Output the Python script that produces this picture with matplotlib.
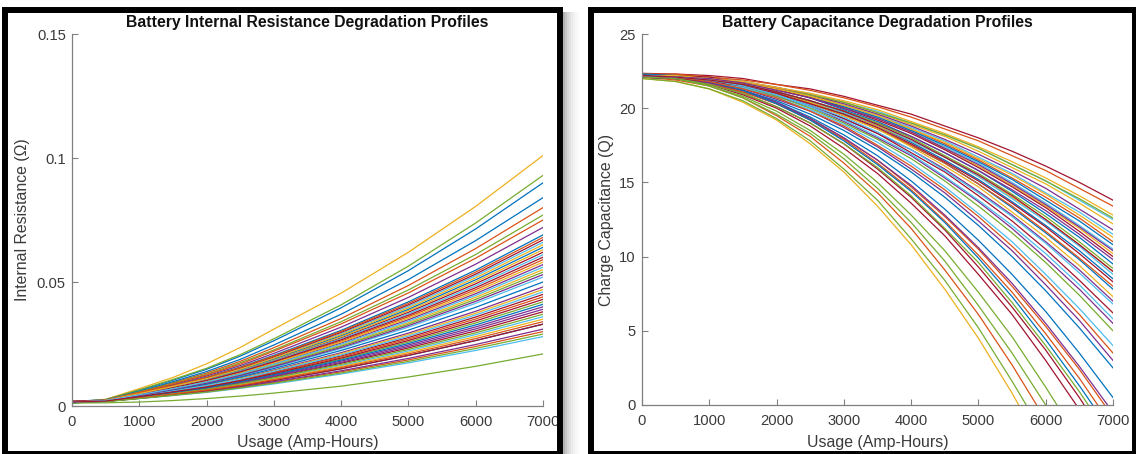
import matplotlib
matplotlib.use("Agg")
import matplotlib.pyplot as plt
from matplotlib.patches import Rectangle

# ---------------- data ----------------
usage_r = [0, 500, 1000, 1500, 2000, 2500, 3000, 4000, 5000, 6000, 7000]

# Internal resistance (milli-ohm) of each battery profile at each usage point
r_0 = [1.8, 1.5, 1.5, 1.3, 1.6, 1.9, 1.4,
       1.7, 1.5, 1.2, 1.8, 1.2, 1.6, 1.4,
       1.5, 1.9, 1.3, 1.6, 1.5, 1.7, 1.4,
       1.5, 1.8, 1.4, 1.6, 1.3, 1.7, 1.5,
       1.6, 1.4, 1.8, 1.5, 1.3, 1.6, 1.9,
       1.4, 1.7, 1.5, 1.6, 1.2, 1.5, 1.8,
       1.3, 1.6, 1.5, 1.7, 1.4, 1.5, 1.6]
r_500 = [2.6, 2.4, 2.7, 2.3, 2.6, 2.3, 2.2,
         2.5, 2.2, 2.1, 2.1, 1.3, 1.8, 2.0,
         2.3, 1.8, 2.2, 2.0, 2.4, 2.1, 2.0,
         1.9, 2.4, 2.1, 2.2, 2.0, 1.9, 2.3,
         2.3, 2.0, 1.9, 1.9, 2.1, 2.2, 1.9,
         2.1, 2.3, 2.2, 2.0, 1.9, 2.0, 2.2,
         2.0, 1.9, 2.3, 2.1, 1.8, 2.2, 2.0]
r_1000 = [6.4, 5.8, 7.0, 5.4, 6.5, 5.0, 4.8,
          6.0, 4.7, 4.4, 4.1, 1.6, 3.0, 3.9,
          5.2, 3.1, 4.9, 3.6, 5.7, 4.3, 3.5,
          3.2, 5.5, 4.0, 4.6, 3.7, 3.4, 5.1,
          4.9, 3.8, 3.3, 3.1, 4.4, 4.8, 3.2,
          4.2, 5.2, 4.6, 3.6, 3.5, 3.9, 4.7,
          3.7, 3.3, 5.0, 4.3, 3.0, 4.5, 3.8]
r_1500 = [10.4, 9.4, 11.5, 8.6, 10.7, 8.0, 7.6,
          9.8, 7.3, 6.9, 6.2, 2.2, 4.2, 5.9,
          8.3, 4.4, 7.7, 5.4, 9.1, 6.6, 5.2,
          4.7, 8.9, 6.1, 7.1, 5.6, 5.0, 8.1,
          7.8, 5.8, 4.9, 4.5, 6.8, 7.5, 4.7,
          6.4, 8.2, 7.2, 5.3, 5.1, 6.0, 7.4,
          5.5, 4.8, 7.9, 6.7, 4.3, 7.0, 5.7]
r_2000 = [14.8, 13.3, 17.0, 12.1, 15.2, 11.2, 10.6,
          13.9, 10.1, 9.5, 8.5, 3.0, 5.5, 8.0,
          11.6, 5.8, 10.7, 7.3, 12.8, 9.1, 7.0,
          6.2, 12.5, 8.3, 9.8, 7.6, 6.7, 11.3,
          10.9, 7.9, 6.5, 5.9, 9.4, 10.4, 6.2,
          8.8, 11.5, 10.0, 7.1, 6.8, 8.2, 10.3,
          7.4, 6.4, 11.0, 9.2, 5.6, 9.7, 7.7]
r_2500 = [20.1, 18.0, 23.6, 16.3, 20.7, 15.0, 14.2,
          18.8, 13.6, 12.7, 11.3, 4.0, 7.1, 10.6,
          15.7, 7.5, 14.4, 9.6, 17.4, 12.1, 9.2,
          8.1, 16.9, 11.1, 13.2, 10.0, 8.7, 15.3,
          14.6, 10.4, 8.5, 7.7, 12.5, 14.0, 8.1,
          11.7, 15.5, 13.4, 9.4, 9.0, 10.8, 13.8,
          9.8, 8.3, 14.8, 12.3, 7.3, 12.9, 10.2]
r_3000 = [26.3, 23.5, 31.0, 21.2, 27.1, 19.6, 18.4,
          24.6, 17.6, 16.5, 14.5, 5.2, 8.9, 13.7,
          20.4, 9.5, 18.7, 12.3, 22.6, 15.6, 11.7,
          10.3, 22.1, 14.2, 17.0, 12.8, 11.2, 19.8,
          19.0, 13.4, 10.9, 9.8, 16.2, 18.2, 10.3,
          15.1, 20.1, 17.3, 12.0, 11.4, 14.0, 17.9,
          12.6, 10.6, 19.3, 15.9, 9.2, 16.8, 13.1]
r_4000 = [39.6, 35.3, 45.5, 31.8, 40.8, 29.2, 27.5,
          37.0, 26.2, 24.5, 21.5, 8.0, 12.9, 20.2,
          30.5, 13.8, 27.9, 18.1, 34.0, 23.2, 17.2,
          15.0, 33.1, 21.1, 25.4, 18.9, 16.3, 29.7,
          28.4, 19.8, 15.9, 14.2, 24.1, 27.1, 15.0,
          22.4, 30.1, 25.8, 17.6, 16.8, 20.6, 26.7,
          18.5, 15.5, 28.8, 23.6, 13.3, 24.9, 19.3]
r_5000 = [54.6, 48.6, 62.0, 43.8, 56.4, 40.2, 37.8,
          51.0, 36.0, 33.6, 29.4, 11.7, 17.4, 27.6,
          42.0, 18.6, 38.4, 24.6, 46.8, 31.8, 23.4,
          20.4, 45.6, 28.8, 34.8, 25.8, 22.2, 40.8,
          39.0, 27.0, 21.6, 19.2, 33.0, 37.2, 20.4,
          30.6, 41.4, 35.4, 24.0, 22.8, 28.2, 36.6,
          25.2, 21.0, 39.6, 32.4, 18.0, 34.2, 26.4]
r_6000 = [71.4, 63.5, 80.5, 57.2, 73.8, 52.5, 49.3,
          66.7, 46.9, 43.8, 38.2, 16.0, 22.4, 35.9,
          54.8, 24.0, 50.1, 31.9, 61.1, 41.4, 30.3,
          26.4, 59.6, 37.4, 45.3, 33.5, 28.8, 53.2,
          50.9, 35.1, 28.0, 24.8, 43.0, 48.5, 26.4,
          39.8, 54.0, 46.1, 31.1, 29.5, 36.7, 47.7,
          32.7, 27.2, 51.7, 42.2, 23.2, 44.6, 34.3]
r_7000 = [90, 80, 101, 72, 93, 66, 62,
          84, 59, 55, 48, 21, 28, 45,
          69, 30, 63, 40, 77, 52, 38,
          33, 75, 47, 57, 42, 36, 67,
          64, 44, 35, 31, 54, 61, 33,
          50, 68, 58, 39, 37, 46, 60,
          41, 34, 65, 53, 29, 56, 43]

usage_q = [0, 500, 1000, 1500, 2000, 2500, 3000, 3500,
           4000, 4500, 5000, 5500, 6000, 6500, 7000]

# Charge capacitance of each battery profile at each usage point
q_0 = [22.2, 22.3, 22.0, 22.1, 22.0, 22.2, 22.35,
       22.3, 22.1, 22.2, 22.2, 22.1, 22.3, 22.1,
       22.2, 22.3, 22.1, 22.2, 22.1, 22.2, 22.3,
       22.2, 22.1, 22.3, 22.2, 22.1, 22.2, 22.2,
       22.2, 22.2, 22.3, 22.1, 22.2, 22.2, 22.3,
       22.1, 22.2, 22.2, 22.2, 22.2, 22.2, 22.1,
       22.3, 22.2, 22.2, 22.2, 22.1, 22.2, 22.2]
q_500 = [22.1, 22.2, 21.8, 22.0, 21.8, 22.2, 22.3,
         22.2, 21.9, 22.2, 22.1, 22.0, 22.2, 22.0,
         22.1, 22.3, 22.0, 22.1, 22.0, 22.1, 22.2,
         22.1, 22.0, 22.2, 22.1, 22.1, 22.1, 22.1,
         22.1, 22.1, 22.2, 22.0, 22.1, 22.1, 22.2,
         22.0, 22.1, 22.1, 22.1, 22.1, 22.1, 22.0,
         22.2, 22.1, 22.2, 22.1, 22.0, 22.1, 22.1]
q_1000 = [21.9, 22.1, 21.3, 21.8, 21.3, 22.0, 22.2,
          22.0, 21.5, 22.0, 21.9, 21.5, 22.1, 21.6,
          21.9, 22.1, 21.8, 21.8, 21.5, 22.0, 22.0,
          21.8, 21.8, 22.1, 22.0, 21.9, 21.9, 21.7,
          22.0, 21.7, 22.0, 21.9, 21.9, 21.9, 22.1,
          21.7, 21.7, 22.0, 21.7, 21.9, 21.8, 21.8,
          21.8, 21.8, 22.0, 22.0, 21.6, 21.9, 21.9]
q_1500 = [21.6, 21.8, 20.4, 21.4, 20.5, 21.8, 22.0,
          21.7, 20.7, 21.7, 21.4, 20.7, 21.8, 20.9,
          21.5, 21.9, 21.5, 21.3, 20.8, 21.7, 21.6,
          21.2, 21.5, 21.7, 21.7, 21.7, 21.5, 21.0,
          21.7, 21.1, 21.6, 21.5, 21.4, 21.6, 21.7,
          21.2, 21.1, 21.7, 21.2, 21.6, 21.4, 21.5,
          21.2, 21.3, 21.8, 21.7, 21.0, 21.5, 21.6]
q_2000 = [21.1, 21.4, 19.2, 20.9, 19.3, 21.4, 21.6,
          21.3, 19.5, 21.4, 20.8, 19.6, 21.3, 20.0,
          21.0, 21.6, 21.0, 20.6, 19.8, 21.3, 21.0,
          20.4, 21.0, 21.3, 21.4, 21.3, 20.9, 20.1,
          21.3, 20.3, 21.1, 21.1, 20.8, 21.1, 21.3,
          20.5, 20.3, 21.3, 20.4, 21.1, 20.7, 21.0,
          20.3, 20.7, 21.4, 21.2, 20.1, 20.9, 21.1]
q_2500 = [20.5, 20.9, 17.6, 20.2, 17.8, 21.0, 21.3,
          20.7, 18.1, 20.9, 20.1, 18.3, 20.8, 18.8,
          20.4, 21.2, 20.4, 19.8, 18.5, 20.8, 20.2,
          19.4, 20.3, 20.8, 20.9, 20.9, 20.2, 19.0,
          20.7, 19.2, 20.4, 20.5, 20.0, 20.5, 20.7,
          19.6, 19.3, 20.8, 19.3, 20.5, 19.9, 20.3,
          19.2, 19.8, 21.0, 20.7, 19.0, 20.1, 20.5]
q_3000 = [19.7, 20.2, 15.7, 19.3, 15.9, 20.4, 20.8,
          19.9, 16.3, 20.4, 19.1, 16.6, 20.1, 17.3,
          19.6, 20.7, 19.7, 18.7, 16.9, 20.2, 19.3,
          18.2, 19.5, 20.1, 20.3, 20.4, 19.4, 17.6,
          20.1, 17.9, 19.5, 19.8, 19.0, 19.7, 20.0,
          18.5, 18.0, 20.2, 18.0, 19.8, 18.9, 19.6,
          17.8, 18.8, 20.5, 20.0, 17.6, 19.2, 19.8]
q_3500 = [18.8, 19.5, 13.4, 18.3, 13.8, 19.8, 20.2,
          19.1, 14.3, 19.7, 18.0, 14.6, 19.4, 15.6,
          18.6, 20.1, 18.8, 17.4, 15.0, 19.5, 18.3,
          16.8, 18.6, 19.3, 19.6, 19.7, 18.4, 15.9,
          19.4, 16.3, 18.6, 19.0, 17.9, 18.9, 19.2,
          17.2, 16.5, 19.5, 16.5, 19.0, 17.7, 18.7,
          16.2, 17.5, 19.9, 19.3, 16.0, 18.1, 18.9]
q_4000 = [17.7, 18.6, 10.8, 17.2, 11.2, 19.0, 19.6,
          18.1, 11.9, 18.9, 16.8, 12.3, 18.5, 13.6,
          17.5, 19.4, 17.8, 15.9, 12.8, 18.7, 17.0,
          15.1, 17.5, 18.4, 18.8, 19.0, 17.2, 14.0,
          18.5, 14.5, 17.4, 18.1, 16.6, 17.8, 18.3,
          15.7, 14.7, 18.6, 14.8, 18.0, 16.3, 17.6,
          14.4, 16.1, 19.1, 18.4, 14.1, 16.9, 17.9]
q_4500 = [16.5, 17.6, 7.8, 15.9, 8.4, 18.2, 18.8,
          17.0, 9.1, 18.1, 15.3, 9.7, 17.4, 11.4,
          16.3, 18.6, 16.7, 14.3, 10.4, 17.8, 15.7,
          13.2, 16.3, 17.3, 17.9, 18.2, 15.8, 11.8,
          17.5, 12.4, 16.1, 17.0, 15.1, 16.7, 17.2,
          14.0, 12.7, 17.7, 12.8, 16.8, 14.7, 16.4,
          12.3, 14.5, 18.3, 17.3, 11.9, 15.4, 16.7]
q_5000 = [15.2, 16.5, 4.5, 14.4, 5.2, 17.3, 18.0,
          15.8, 6.1, 17.1, 13.7, 6.7, 16.3, 8.8,
          14.9, 17.8, 15.4, 12.4, 7.6, 16.7, 14.1,
          11.1, 14.9, 16.1, 16.9, 17.3, 14.3, 9.3,
          16.4, 10.1, 14.7, 15.8, 13.4, 15.4, 16.0,
          12.1, 10.5, 16.6, 10.6, 15.6, 12.9, 15.1,
          9.9, 12.7, 17.4, 16.2, 9.6, 13.8, 15.5]
q_5500 = [13.7, 15.3, 0.8, 12.8, 1.6, 16.2, 17.1,
          14.4, 2.7, 16.0, 11.9, 3.5, 15.0, 6.1,
          13.3, 16.8, 14.0, 10.4, 4.6, 15.6, 12.4,
          8.8, 13.4, 14.8, 15.8, 16.2, 12.7, 6.6,
          15.2, 7.6, 13.0, 14.5, 11.6, 13.9, 14.7,
          10.0, 8.0, 15.5, 8.2, 14.2, 11.0, 13.6,
          7.3, 10.7, 16.4, 14.9, 6.9, 12.1, 14.1]
q_6000 = [12.1, 14.0, -3.3, 11.0, -2.2, 15.1, 16.1,
          12.9, -1.0, 14.9, 9.9, 0.0, 13.6, 3.0,
          11.6, 15.8, 12.5, 8.1, 1.2, 14.3, 10.5,
          6.3, 11.7, 13.4, 14.6, 15.1, 10.9, 3.7,
          13.8, 4.8, 11.3, 13.1, 9.6, 12.4, 13.3,
          7.7, 5.3, 14.2, 5.5, 12.7, 8.8, 12.0,
          4.4, 8.5, 15.3, 13.5, 4.0, 10.2, 12.5]
q_6500 = [10.4, 12.6, -7.7, 9.1, -6.5, 13.8, 15.0,
          11.3, -5.0, 13.6, 7.8, -3.9, 12.1, -0.3,
          9.8, 14.6, 10.8, 5.7, -2.4, 13.0, 8.4,
          3.5, 9.9, 11.9, 13.2, 13.9, 8.9, 0.5,
          12.4, 1.8, 9.4, 11.5, 7.4, 10.7, 11.7,
          5.2, 2.4, 12.8, 2.6, 11.0, 6.5, 10.2,
          1.3, 6.1, 14.1, 12.0, 0.9, 8.1, 10.8]
q_7000 = [8.5, 11.0, -12.4, 7.0, -11.0, 12.5, 13.8,
          9.5, -9.3, 12.2, 5.5, -8.0, 10.5, -3.9,
          7.8, 13.4, 9.0, 3.0, -6.3, 11.5, 6.2,
          0.5, 8.0, 10.2, 11.8, 12.6, 6.8, -3.0,
          10.8, -1.5, 7.3, 9.8, 5.0, 8.8, 10.0,
          2.5, -0.8, 11.3, -0.5, 9.2, 4.0, 8.3,
          -2.0, 3.5, 12.8, 10.4, -2.5, 5.8, 9.0]

x_ticks = [0, 1000, 2000, 3000, 4000, 5000, 6000, 7000]
r_ticks = [0, 0.05, 0.1, 0.15]
r_tick_labels = ["0", "0.05", "0.1", "0.15"]
q_ticks = [0, 5, 10, 15, 20, 25]
q_tick_labels = ["0", "5", "10", "15", "20", "25"]

colors = ["#0072BD", "#D95319", "#EDB120", "#7E2F8E",
          "#77AC30", "#4DBEEE", "#A2142F"]

# ---------------- figure ----------------
W, H = 1136, 454
plt.rcParams['font.family'] = ['Liberation Sans', 'DejaVu Sans']
fig = plt.figure(figsize=(W / 100, H / 100), dpi=100)
fig.patch.set_facecolor("white")


def fx(px):
    return px / W


def fy(py):
    return 1 - py / H


# soft shadow between the two panels
shadow_greys = ["#b0b0b0", "#c4c4c4", "#d4d4d4", "#e0e0e0", "#eaeaea",
                "#f1f1f1", "#f6f6f6", "#fafafa"]
for i, g in enumerate(shadow_greys):
    fig.patches.append(Rectangle((fx(563 + 2 * i), fy(454)), 2 / W, fy(12) - fy(454),
                                 transform=fig.transFigure, figure=fig,
                                 facecolor=g, edgecolor="none", zorder=0))

# panel frames
for (x0, x1) in [(5, 560), (590.5, 1135)]:
    fig.patches.append(Rectangle((fx(x0), fy(453.5)), fx(x1) - fx(x0), fy(9.5) - fy(453.5),
                                 transform=fig.transFigure, figure=fig,
                                 fill=False, edgecolor="black", linewidth=4.3,
                                 zorder=1))

ax_l = fig.add_axes([fx(72), fy(406), fx(543) - fx(72), fy(34) - fy(406)])
ax_r = fig.add_axes([fx(642), fy(405), fx(1113) - fx(642), fy(34) - fy(405)])

tick_col = "#3a3a3a"
spine_col = "#808080"
LW = 0.9


def style(ax):
    ax.set_facecolor("white")
    for s in ["top", "right"]:
        ax.spines[s].set_visible(False)
    for s in ["left", "bottom"]:
        ax.spines[s].set_color(spine_col)
        ax.spines[s].set_linewidth(0.9)
    ax.tick_params(direction="in", length=4, width=0.8, color=spine_col,
                   labelcolor=tick_col, labelsize=10.6)
    ax.tick_params(axis="x", pad=6.5)
    ax.tick_params(axis="y", pad=4.5)
    ax.set_xlim(0, 7000)
    ax.set_xticks(x_ticks)
    ax.set_xticklabels([str(t) for t in x_ticks])


# left panel: internal resistance
r_cols = [r_0, r_500, r_1000, r_1500, r_2000, r_2500, r_3000,
          r_4000, r_5000, r_6000, r_7000]
for i in range(len(r_7000)):
    ys = [col[i] / 1000.0 for col in r_cols]
    ax_l.plot(usage_r, ys, color=colors[i % 7], linewidth=LW)
style(ax_l)
ax_l.set_ylim(0, 0.15)
ax_l.set_yticks(r_ticks)
ax_l.set_yticklabels(r_tick_labels)
ax_l.set_xlabel("Usage (Amp-Hours)", fontsize=11.4, color=tick_col)
ax_l.set_ylabel("Internal Resistance (Ω)", fontsize=11.4, color=tick_col)
ax_l.xaxis.label.set_va("center")
ax_l.xaxis.set_label_coords(0.5, (406 - 442.5) / 372)
ax_l.yaxis.label.set_va("center")
ax_l.yaxis.set_label_coords((23 - 72) / 471, 0.5)

# right panel: capacitance
q_cols = [q_0, q_500, q_1000, q_1500, q_2000, q_2500, q_3000, q_3500,
          q_4000, q_4500, q_5000, q_5500, q_6000, q_6500, q_7000]
for i in range(len(q_7000)):
    ys = [col[i] for col in q_cols]
    ax_r.plot(usage_q, ys, color=colors[i % 7], linewidth=LW)
style(ax_r)
ax_r.set_ylim(0, 25)
ax_r.set_yticks(q_ticks)
ax_r.set_yticklabels(q_tick_labels)
ax_r.set_xlabel("Usage (Amp-Hours)", fontsize=11.4, color=tick_col)
ax_r.set_ylabel("Charge Capacitance (Q)", fontsize=11.4, color=tick_col)
ax_r.xaxis.label.set_va("center")
ax_r.xaxis.set_label_coords(0.5, (405 - 442.5) / 371)
ax_r.yaxis.label.set_va("center")
ax_r.yaxis.set_label_coords((607 - 642) / 471, 0.5)

# titles
fig.text(fx(307.5), fy(22), "Battery Internal Resistance Degradation Profiles",
         ha="center", va="center", fontsize=11.3, fontweight="bold", color="#111111")
fig.text(fx(877.5), fy(22), "Battery Capacitance Degradation Profiles",
         ha="center", va="center", fontsize=11.3, fontweight="bold", color="#111111")

fig.savefig("out.png", dpi=100)
